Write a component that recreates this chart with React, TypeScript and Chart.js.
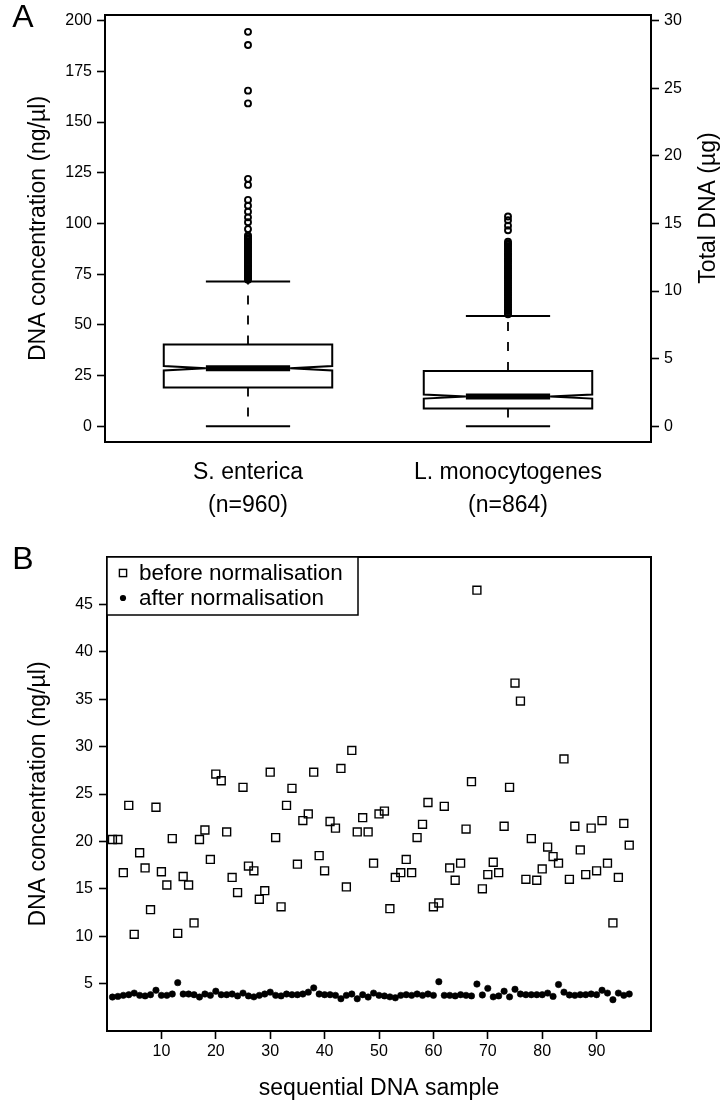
import React, { useEffect, useRef } from 'react';
import { Chart, registerables } from 'chart.js';

Chart.register(...registerables);

const FONT = "'Liberation Sans', Arial, Helvetica, sans-serif";
const INK = '#000000';

// ---------------- Panel A : DNA yield per species (notched box plot) ----------------
const groupLabels: string[][] = [
  ['S. enterica', '(n=960)'],
  ['L. monocytogenes', '(n=864)'],
];
const groupN = [960, 864];
const whiskerLow = [0, 0];
const q1 = [19.1, 8.7];
const medians = [28.6, 14.6];
const q3 = [40.3, 27.2];
const whiskerHigh = [71.3, 54.3];
const outliersSenterica = [
  194.5, 188, 165.5, 159.2, 122, 119, 111.6, 108.7, 105.8, 103, 100.6, 97.2,
  94.1, 93.4, 92.6, 92, 91.1, 90.5, 89.7, 88.8, 88.2, 87.3, 86.7, 85.9, 85.2,
  84.4, 83.7, 83.1, 82.2, 81.6, 80.8, 80, 79.3, 78.7, 77.9, 77.1, 76.5, 75.8,
  75, 74.3, 73.6, 72.9, 72.2,
];
const outliersLmono = [
  103.4, 101.6, 98.9, 96.6, 91, 90.1, 89.5, 88.7, 87.7, 87.1, 86.2, 85.2, 84.5,
  83.6, 82.7, 81.9, 81.2, 80.3, 79.4, 78.5, 77.8, 76.9, 76.1, 75.2, 74.3, 73.6,
  72.8, 71.9, 71.1, 70.2, 69.4, 68.5, 67.7, 66.9, 66, 65.2, 64.4, 63.5, 62.6,
  61.9, 61, 60.1, 59.3, 58.5, 57.6, 56.8, 56, 55.2,
];
const concTicks = [0, 25, 50, 75, 100, 125, 150, 175, 200];
const totalDnaTicks = [0, 5, 10, 15, 20, 25, 30];
const concRange = [-7.8, 202.8];
const elutionVolumeMl = 0.15; // ng/µl -> µg
const groupRange = [0.45, 2.55];
const BOX_HALF = 0.324;

// ---------------- Panel B : before / after normalisation ----------------
const beforeNorm = [
  20.2, 20.2, 16.7, 23.8, 10.2, 18.8, 17.2, 12.8, 23.6, 16.8,
  15.4, 20.3, 10.3, 16.3, 15.4, 11.4, 20.2, 21.2, 18.1, 27.1,
  26.4, 21.0, 16.2, 14.6, 25.7, 17.4, 16.9, 13.9, 14.8, 27.3,
  20.4, 13.1, 23.8, 25.6, 17.6, 22.2, 22.9, 27.3, 18.5, 16.9,
  22.1, 21.4, 27.7, 15.2, 29.6, 21.0, 22.5, 21.0, 17.7, 22.9,
  23.2, 12.9, 16.2, 16.7, 18.1, 16.7, 20.4, 21.8, 24.1, 13.1,
  13.5, 23.7, 17.2, 15.9, 17.7, 21.3, 26.3, 46.5, 15.0, 16.5,
  17.8, 16.7, 21.6, 25.7, 36.7, 34.8, 16.0, 20.3, 15.9, 17.1,
  19.4, 18.4, 17.7, 28.7, 16.0, 21.6, 19.1, 16.5, 21.4, 16.9,
  22.2, 17.7, 11.4, 16.2, 21.9, 19.6,
];
const afterNorm = [
  3.58, 3.65, 3.76, 3.83, 4.0, 3.76, 3.7, 3.83, 4.3, 3.76,
  3.76, 3.9, 5.1, 3.9, 3.9, 3.83, 3.58, 3.9, 3.76, 4.2,
  3.83, 3.83, 3.9, 3.7, 4.0, 3.7, 3.6, 3.76, 3.9, 4.1,
  3.76, 3.7, 3.9, 3.83, 3.83, 3.9, 4.1, 4.55, 3.9, 3.83,
  3.83, 3.76, 3.4, 3.76, 3.9, 3.4, 3.83, 3.58, 4.0, 3.76,
  3.7, 3.6, 3.5, 3.76, 3.83, 3.76, 3.9, 3.76, 3.9, 3.76,
  5.2, 3.76, 3.76, 3.7, 3.83, 3.76, 3.7, 4.95, 3.8, 4.5,
  3.6, 3.7, 4.2, 3.6, 4.4, 3.9, 3.83, 3.83, 3.83, 3.83,
  4.0, 3.65, 4.9, 4.1, 3.8, 3.76, 3.83, 3.83, 3.9, 3.83,
  4.3, 4.0, 3.3, 4.0, 3.76, 3.9,
];
const seriesLabels = ['before normalisation', 'after normalisation'];
const sampleTicks = [10, 20, 30, 40, 50, 60, 70, 80, 90];
const normConcTicks = [5, 10, 15, 20, 25, 30, 35, 40, 45];
const sampleRange = [0, 100];
const normConcRange = [0, 50];

// ---------------- shared plugins ----------------
const framePlugin = {
  id: 'frame',
  afterDatasetsDraw(chart: any) {
    const { ctx, chartArea: a } = chart;
    ctx.save();
    ctx.lineWidth = 2;
    ctx.strokeStyle = INK;
    ctx.strokeRect(a.left, a.top, a.right - a.left, a.bottom - a.top);
    ctx.restore();
  },
};

function letterPlugin(letter: string, x: number, y: number) {
  return {
    id: 'letter' + letter,
    afterDraw(chart: any) {
      const { ctx } = chart;
      ctx.save();
      ctx.fillStyle = INK;
      ctx.font = `32px ${FONT}`;
      ctx.textAlign = 'center';
      ctx.textBaseline = 'middle';
      ctx.fillText(letter, x, y);
      ctx.restore();
    },
  };
}

const boxPlugin = {
  id: 'notchedBoxes',
  beforeDatasetsDraw(chart: any) {
    const { ctx, scales } = chart;
    const xs = scales.x;
    const ys = scales.y;
    const py = (v: number) => ys.getPixelForValue(v);
    ctx.save();
    ctx.strokeStyle = INK;
    groupLabels.forEach((_, i) => {
      const pos = i + 1;
      const cx = xs.getPixelForValue(pos);
      const hw = xs.getPixelForValue(pos + BOX_HALF) - cx;
      const notch = (1.58 * (q3[i] - q1[i])) / Math.sqrt(groupN[i]);
      // dashed whiskers
      ctx.lineWidth = 1.8;
      ctx.setLineDash([9, 11]);
      ctx.beginPath();
      ctx.moveTo(cx, py(q3[i]));
      ctx.lineTo(cx, py(whiskerHigh[i]));
      ctx.moveTo(cx, py(q1[i]));
      ctx.lineTo(cx, py(whiskerLow[i]));
      ctx.stroke();
      ctx.setLineDash([]);
      // staples
      ctx.lineWidth = 2;
      ctx.beginPath();
      ctx.moveTo(cx - hw / 2, py(whiskerHigh[i]));
      ctx.lineTo(cx + hw / 2, py(whiskerHigh[i]));
      ctx.moveTo(cx - hw / 2, py(whiskerLow[i]));
      ctx.lineTo(cx + hw / 2, py(whiskerLow[i]));
      ctx.stroke();
      // notched box
      const fx = [-1, 1, 1, 0.5, 1, 1, -1, -1, -0.5, -1];
      const fy = [
        q1[i], q1[i], medians[i] - notch, medians[i], medians[i] + notch,
        q3[i], q3[i], medians[i] + notch, medians[i], medians[i] - notch,
      ];
      ctx.beginPath();
      fx.forEach((f, k) => {
        const X = cx + f * hw;
        const Y = py(fy[k]);
        if (k === 0) ctx.moveTo(X, Y);
        else ctx.lineTo(X, Y);
      });
      ctx.closePath();
      ctx.fillStyle = '#ffffff';
      ctx.fill();
      ctx.lineWidth = 2;
      ctx.stroke();
      // median
      ctx.lineWidth = 6;
      ctx.lineCap = 'butt';
      ctx.beginPath();
      ctx.moveTo(cx - hw / 2, py(medians[i]));
      ctx.lineTo(cx + hw / 2, py(medians[i]));
      ctx.stroke();
    });
    ctx.restore();
  },
};

const rightTitlePlugin = {
  id: 'rightTitle',
  afterDraw(chart: any) {
    const { ctx } = chart;
    ctx.save();
    ctx.fillStyle = INK;
    ctx.font = `23px ${FONT}`;
    ctx.textAlign = 'center';
    ctx.textBaseline = 'middle';
    ctx.translate(709, 208);
    ctx.rotate(-Math.PI / 2);
    ctx.fillText('Total DNA (µg)', 0, 0);
    ctx.restore();
  },
};

const legendPlugin = {
  id: 'boxLegend',
  afterDatasetsDraw(chart: any) {
    const { ctx, chartArea: a } = chart;
    const w = 251;
    const h = 58;
    ctx.save();
    ctx.fillStyle = '#ffffff';
    ctx.fillRect(a.left, a.top, w, h);
    ctx.lineWidth = 1.5;
    ctx.strokeStyle = INK;
    ctx.strokeRect(a.left, a.top, w, h);
    ctx.font = `22.5px ${FONT}`;
    ctx.textBaseline = 'middle';
    ctx.textAlign = 'left';
    chart.data.datasets.forEach((ds: any, i: number) => {
      const cy = a.top + 16 + i * 25;
      const sx = a.left + 16;
      ctx.strokeStyle = INK;
      ctx.fillStyle = INK;
      if (ds.pointStyle === 'rect') {
        ctx.lineWidth = 1.4;
        ctx.strokeRect(sx - 3.6, cy - 3.6, 7.2, 7.2);
      } else {
        ctx.beginPath();
        ctx.arc(sx, cy, 3.1, 0, Math.PI * 2);
        ctx.fill();
      }
      ctx.fillText(ds.label, a.left + 32, cy + 1);
    });
    ctx.restore();
  },
};

const tickFont = { family: FONT, size: 16 };
const titleFont = { family: FONT, size: 23 };

function PanelA() {
  const ref = useRef<HTMLCanvasElement | null>(null);
  useEffect(() => {
    if (!ref.current) return;
    const chart = new Chart(ref.current, {
      type: 'scatter',
      data: {
        datasets: [
          {
            label: 'S. enterica outliers',
            data: outliersSenterica.map((v) => ({ x: 1, y: v })),
          },
          {
            label: 'L. monocytogenes outliers',
            data: outliersLmono.map((v) => ({ x: 2, y: v })),
          },
        ].map((d) => ({
          ...d,
          pointStyle: 'circle',
          radius: 3,
          borderWidth: 1.9,
          borderColor: INK,
          backgroundColor: 'rgba(0,0,0,0)',
          showLine: false,
        })),
      },
      options: {
        animation: false,
        responsive: false,
        events: [],
        layout: { autoPadding: false, padding: { top: 15, left: 0, right: 0, bottom: 0 } },
        plugins: { legend: { display: false }, tooltip: { enabled: false } },
        scales: {
          x: {
            type: 'linear',
            position: 'bottom',
            min: groupRange[0],
            max: groupRange[1],
            afterBuildTicks: (s: any) => {
              s.ticks = groupLabels.map((_, i) => ({ value: i + 1 }));
            },
            afterFit: (s: any) => {
              s.height = 98;
            },
            grid: { display: true, drawOnChartArea: false, drawTicks: false },
            border: { display: false },
            ticks: {
              color: INK,
              font: { family: FONT, size: 23, lineHeight: 1.4 },
              padding: 15,
              maxRotation: 0,
              autoSkip: false,
              callback: (v: any) => groupLabels[Math.round(Number(v)) - 1],
            },
          },
          y: {
            type: 'linear',
            position: 'left',
            min: concRange[0],
            max: concRange[1],
            afterBuildTicks: (s: any) => {
              s.ticks = concTicks.map((v) => ({ value: v }));
            },
            afterFit: (s: any) => {
              s.width = 105;
            },
            grid: { drawOnChartArea: false, tickLength: 8, tickColor: INK, tickWidth: 1.6 },
            border: { display: false },
            ticks: { color: INK, font: tickFont, padding: 5, callback: (v: any) => String(v) },
            title: {
              display: true,
              text: 'DNA concentration (ng/µl)',
              color: INK,
              font: titleFont,
              padding: { top: 25, bottom: 0 },
            },
          },
          y2: {
            type: 'linear',
            position: 'right',
            min: concRange[0] * elutionVolumeMl,
            max: concRange[1] * elutionVolumeMl,
            afterBuildTicks: (s: any) => {
              s.ticks = totalDnaTicks.map((v) => ({ value: v }));
            },
            afterFit: (s: any) => {
              s.width = 75;
            },
            grid: { drawOnChartArea: false, tickLength: 8, tickColor: INK, tickWidth: 1.6 },
            border: { display: false },
            ticks: { color: INK, font: tickFont, padding: 5, callback: (v: any) => String(v) },
          },
        },
      },
      plugins: [boxPlugin, framePlugin, rightTitlePlugin, letterPlugin('A', 23, 18)],
    } as any);
    return () => chart.destroy();
  }, []);
  return <canvas ref={ref} width={726} height={540} style={{ display: 'block' }} />;
}

function PanelB() {
  const ref = useRef<HTMLCanvasElement | null>(null);
  useEffect(() => {
    if (!ref.current) return;
    const chart = new Chart(ref.current, {
      type: 'scatter',
      data: {
        datasets: [
          {
            label: seriesLabels[0],
            data: beforeNorm.map((v, i) => ({ x: i + 1, y: v })),
            pointStyle: 'rect',
            radius: 5.6,
            borderWidth: 1.4,
            borderColor: INK,
            backgroundColor: 'rgba(0,0,0,0)',
          },
          {
            label: seriesLabels[1],
            data: afterNorm.map((v, i) => ({ x: i + 1, y: v })),
            pointStyle: 'circle',
            radius: 3.2,
            borderWidth: 0.6,
            borderColor: INK,
            backgroundColor: INK,
          },
        ],
      },
      options: {
        animation: false,
        responsive: false,
        events: [],
        layout: { autoPadding: false, padding: { top: 17, left: 0, right: 75, bottom: 0 } },
        plugins: { legend: { display: false }, tooltip: { enabled: false } },
        scales: {
          x: {
            type: 'linear',
            position: 'bottom',
            min: sampleRange[0],
            max: sampleRange[1],
            afterBuildTicks: (s: any) => {
              s.ticks = sampleTicks.map((v) => ({ value: v }));
            },
            afterFit: (s: any) => {
              s.height = 80;
            },
            grid: { drawOnChartArea: false, tickLength: 8, tickColor: INK, tickWidth: 1.6 },
            border: { display: false },
            ticks: { color: INK, font: tickFont, padding: 3, maxRotation: 0, autoSkip: false, callback: (v: any) => String(v) },
            title: {
              display: true,
              text: 'sequential DNA sample',
              color: INK,
              font: titleFont,
              padding: { top: 0, bottom: 9 },
            },
          },
          y: {
            type: 'linear',
            position: 'left',
            min: normConcRange[0],
            max: normConcRange[1],
            afterBuildTicks: (s: any) => {
              s.ticks = normConcTicks.map((v) => ({ value: v }));
            },
            afterFit: (s: any) => {
              s.width = 107;
            },
            grid: { drawOnChartArea: false, tickLength: 8, tickColor: INK, tickWidth: 1.6 },
            border: { display: false },
            ticks: { color: INK, font: tickFont, padding: 6, callback: (v: any) => String(v) },
            title: {
              display: true,
              text: 'DNA concentration (ng/µl)',
              color: INK,
              font: titleFont,
              padding: { top: 25, bottom: 0 },
            },
          },
        },
      },
      plugins: [framePlugin, legendPlugin, letterPlugin('B', 23, 20)],
    } as any);
    return () => chart.destroy();
  }, []);
  return <canvas ref={ref} width={726} height={571} style={{ display: 'block' }} />;
}

export default function App() {
  return (
    <div style={{ position: 'absolute', left: 0, top: 0, width: 726, height: 1111, background: '#ffffff' }}>
      <PanelA />
      <PanelB />
    </div>
  );
}
